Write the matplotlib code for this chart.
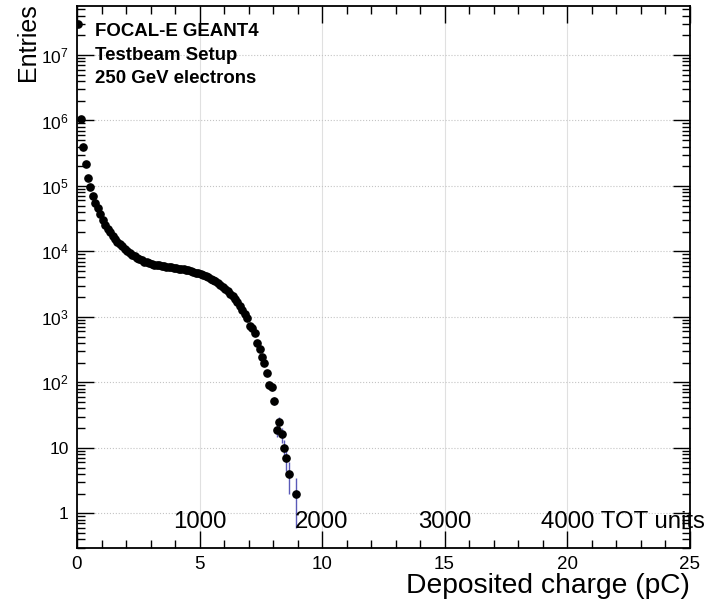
import numpy as np
import matplotlib
matplotlib.use("Agg")
import matplotlib.pyplot as plt
from matplotlib.ticker import (MultipleLocator, LogLocator, NullFormatter,
                               FixedLocator, FixedFormatter)

plt.rcParams["font.family"] = "Liberation Sans"

# -----------------------------
# Histogram contents (0.1 pC bins starting at 0)
# -----------------------------
bin_width = 0.1
counts = [
    29500000, 1040000, 395000, 215000, 133000, 95000, 70000, 55000, 45300, 36700,
    30000, 25500, 22000, 19600, 17400, 15600, 14000, 12900, 11900, 11000,
    10200, 9500, 8900, 8400, 7950, 7600, 7300, 7000, 6780, 6600,
    6450, 6300, 6180, 6110, 6030, 5930, 5860, 5750, 5680, 5620,
    5560, 5470, 5380, 5310, 5210, 5110, 4990, 4890, 4750, 4620,
    4490, 4350, 4170, 4010, 3830, 3650, 3470, 3270, 3090, 2900,
    2690, 2480, 2260, 2070, 1860, 1660, 1460, 1290, 1110, 948,
    720, 682, 560, 403, 319, 246, 195, 137, 91, 84,
    52, 19, 25, 16, 10, 7, 4, 0, 0, 2,
]

# y axis decades and their labels
y_ticks = [1, 10, 1e2, 1e3, 1e4, 1e5, 1e6, 1e7]
y_tick_labels = ["1", "10"] + [r"$\mathregular{10^{%d}}$" % e for e in range(2, 8)]

# secondary scale labels (TOT units), 1000 TOT = 5 pC
tot_values = [1000, 2000, 3000, 4000]
tot_labels = ["1000", "2000", "3000", "4000 TOT units"]
tot_per_pc = 200.0

header_lines = ["FOCAL-E GEANT4", "Testbeam Setup", "250 GeV electrons"]

# -----------------------------
# Prepare points
# -----------------------------
y = np.array(counts, dtype=float)
x = (np.arange(len(y)) + 0.5) * bin_width
keep = y > 0
x, y = x[keep], y[keep]
yerr = np.sqrt(y)

# -----------------------------
# Plot
# -----------------------------
fig = plt.figure(figsize=(7.18, 6.03), dpi=100)
ax = fig.add_axes([77 / 718, 1 - 548 / 603, 612.5 / 718, 542 / 603])

ax.errorbar(x, y, yerr=yerr, fmt="none", ecolor="#5a5ab8", elinewidth=1.0,
            capsize=0, zorder=3)
ax.plot(x, y, "o", color="black", ms=5.2, ls="none", zorder=4)

ax.set_yscale("log")
ax.set_xlim(0, 25)
ax.set_ylim(0.295, 5.6e7)

ax.xaxis.set_major_locator(MultipleLocator(5))
ax.xaxis.set_minor_locator(MultipleLocator(1))
ax.yaxis.set_major_locator(FixedLocator(y_ticks))
ax.yaxis.set_major_formatter(FixedFormatter(y_tick_labels))
ax.yaxis.set_minor_locator(LogLocator(base=10, subs=np.arange(2, 10), numticks=20))
ax.yaxis.set_minor_formatter(NullFormatter())

ax.tick_params(which="both", direction="in", top=True, right=True, width=1)
ax.tick_params(which="major", length=12)
ax.tick_params(which="minor", length=6)
ax.tick_params(axis="x", labelsize=13.5, pad=6)
ax.tick_params(axis="y", labelsize=12.5, pad=6)
for s in ax.spines.values():
    s.set_linewidth(1.3)

ax.set_axisbelow(True)
ax.grid(axis="x", which="major", color="#e0e0e0", lw=0.8, ls="-")
ax.grid(axis="y", which="major", color="#c4c4c4", lw=0.8, ls=":")

# TOT scale labels inside the frame
for val, lab in zip(tot_values, tot_labels):
    if lab == tot_labels[-1]:
        ax.annotate(lab, (val / tot_per_pc, 0.6), xytext=(-26, 0),
                    textcoords="offset pixels", ha="left", va="baseline",
                    fontsize=17.3)
    else:
        ax.text(val / tot_per_pc, 0.6, lab, ha="center", va="baseline",
                fontsize=17.3)

# header text
for i, line in enumerate(header_lines):
    fig.text(95 / 718, 1 - (36 + 23.6 * i) / 603, line, ha="left",
             va="baseline", fontsize=13.4, fontweight="bold")

fig.text(690 / 718, 1 - 593 / 603, "Deposited charge (pC)", ha="right",
         va="baseline", fontsize=20.3)
fig.text(28 / 718, 1 - 3 / 603, "Entries", rotation=90, ha="center",
         va="top", fontsize=18)

fig.savefig("out.png", dpi=100)
